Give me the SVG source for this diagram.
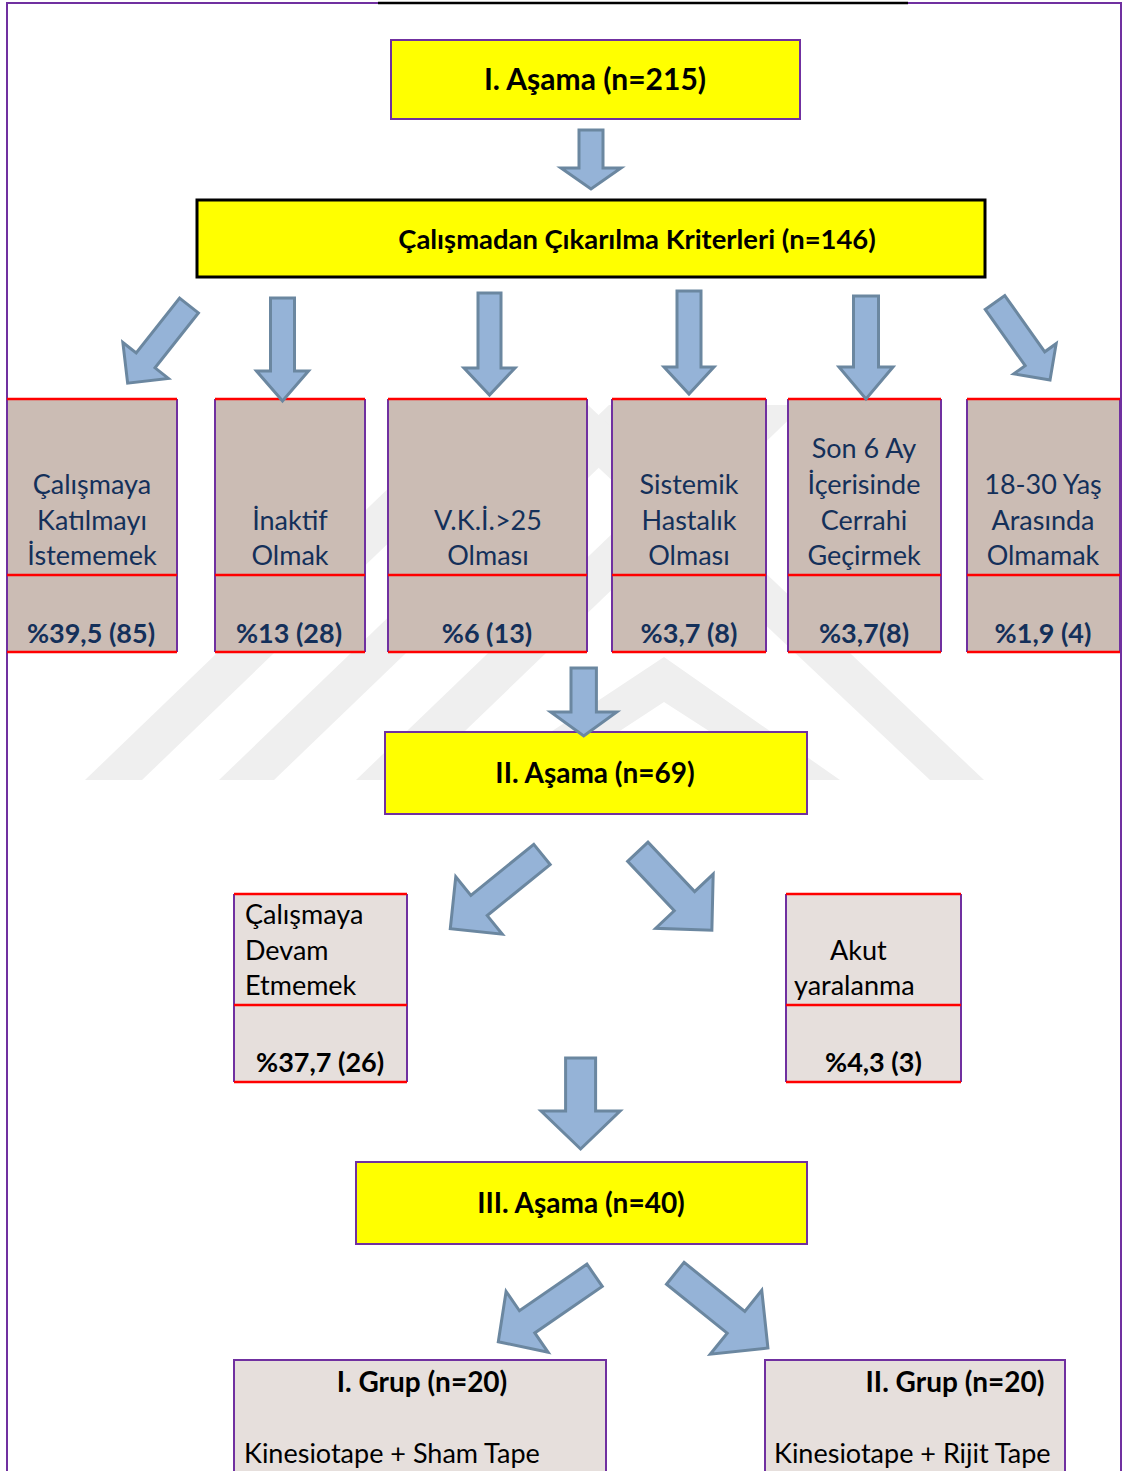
<svg xmlns="http://www.w3.org/2000/svg" width="1123" height="1471" viewBox="0 0 1123 1471">
<style>
.title{font-family:Lato,"Liberation Sans",sans-serif;font-weight:bold;font-size:28px;fill:#000;text-anchor:middle;}
.blue{font-family:Lato,"Liberation Sans",sans-serif;font-size:27px;fill:#14305a;text-anchor:middle;}
.bluep{font-family:Lato,"Liberation Sans",sans-serif;font-size:27px;font-weight:bold;fill:#14305a;text-anchor:middle;}
.blk{font-family:Lato,"Liberation Sans",sans-serif;font-size:27px;fill:#000;}
.blkb{font-family:Lato,"Liberation Sans",sans-serif;font-size:27px;font-weight:bold;fill:#000;}
.yel{fill:#ffff00;stroke:#7030a0;stroke-width:2;}
.tan{fill:#cbbcb4;}
.lt{fill:#e6dfdc;}
.red{stroke:#ff0000;stroke-width:2.5;fill:none;}
.pur{stroke:#7030a0;stroke-width:2;fill:none;}
.arr{fill:#95b3d7;stroke:#6b87a0;stroke-width:3;stroke-linejoin:miter;}
.wm{fill:#efefef;}
</style>
<rect x="0" y="0" width="1123" height="1471" fill="#ffffff"/>
<g id="watermark">
<polygon class="wm" points="85,780 142,780 532,405 475,405"/>
<polygon class="wm" points="219,780 274,780 664,405 609,405"/>
<polygon class="wm" points="356,780 414,780 804,405 746,405"/>
<polygon class="wm" points="664,657 840,780 785,780 664,702 545,780 478,780"/>
<polygon class="wm" points="532,405 588,405 984,780 930,780"/>
</g>
<g id="frame">
<rect x="7" y="3" width="1114" height="1480" fill="none" stroke="#7030a0" stroke-width="2"/>
<line x1="378" y1="3" x2="908" y2="3" stroke="#000" stroke-width="2.5"/>
</g>
<g id="asama1">
<rect class="yel" x="391" y="40" width="409" height="79"/>
<text class="title" x="595" y="90" style="font-size:30px">I. Aşama (n=215)</text>
</g>
<g id="kriterler">
<rect x="197" y="200" width="788" height="77" fill="#ffff00" stroke="#000" stroke-width="3"/>
<text class="title" x="637" y="249" style="font-size:27.4px">Çalışmadan Çıkarılma Kriterleri (n=146)</text>
</g>
<g id="k1">
<rect class="tan" x="7" y="399" width="170" height="253"/>
<path class="pur" d="M7 399V652M177 399V652"/>
<path class="red" d="M7 399H177M7 575H177M7 652H177"/>
<text class="blue" x="92" y="494">Çalışmaya</text>
<text class="blue" x="92" y="530">Katılmayı</text>
<text class="blue" x="92" y="565">İstememek</text>
<text class="bluep" x="91" y="643">%39,5 (85)</text>
</g>
<g id="k2">
<rect class="tan" x="215" y="399" width="150" height="253"/>
<path class="pur" d="M215 399V652M365 399V652"/>
<path class="red" d="M215 399H365M215 575H365M215 652H365"/>
<text class="blue" x="290" y="530">İnaktif</text>
<text class="blue" x="290" y="565">Olmak</text>
<text class="bluep" x="289" y="643">%13 (28)</text>
</g>
<g id="k3">
<rect class="tan" x="388" y="399" width="199" height="253"/>
<path class="pur" d="M388 399V652M587 399V652"/>
<path class="red" d="M388 399H587M388 575H587M388 652H587"/>
<text class="blue" x="488" y="530">V.K.İ.&gt;25</text>
<text class="blue" x="488" y="565">Olması</text>
<text class="bluep" x="487" y="643">%6 (13)</text>
</g>
<g id="k4">
<rect class="tan" x="612" y="399" width="154" height="253"/>
<path class="pur" d="M612 399V652M766 399V652"/>
<path class="red" d="M612 399H766M612 575H766M612 652H766"/>
<text class="blue" x="689" y="494">Sistemik</text>
<text class="blue" x="689" y="530">Hastalık</text>
<text class="blue" x="689" y="565">Olması</text>
<text class="bluep" x="689" y="643">%3,7 (8)</text>
</g>
<g id="k5">
<rect class="tan" x="788" y="399" width="153" height="253"/>
<path class="pur" d="M788 399V652M941 399V652"/>
<path class="red" d="M788 399H941M788 575H941M788 652H941"/>
<text class="blue" x="864" y="458">Son 6 Ay</text>
<text class="blue" x="864" y="494">İçerisinde</text>
<text class="blue" x="864" y="530">Cerrahi</text>
<text class="blue" x="864" y="565">Geçirmek</text>
<text class="bluep" x="864" y="643">%3,7(8)</text>
</g>
<g id="k6">
<rect class="tan" x="967" y="399" width="153" height="253"/>
<path class="pur" d="M967 399V652M1120 399V652"/>
<path class="red" d="M967 399H1120M967 575H1120M967 652H1120"/>
<text class="blue" x="1043" y="494">18-30 Yaş</text>
<text class="blue" x="1043" y="530">Arasında</text>
<text class="blue" x="1043" y="565">Olmamak</text>
<text class="bluep" x="1043" y="643">%1,9 (4)</text>
</g>
<g id="asama2">
<rect class="yel" x="385" y="732" width="422" height="82"/>
<text class="title" x="595" y="783">II. Aşama (n=69)</text>
</g>
<g id="devam">
<rect class="lt" x="234" y="894" width="173" height="188"/>
<path class="pur" d="M234 894V1082M407 894V1082"/>
<path class="red" d="M234 894H407M234 1005H407M234 1082H407"/>
<text class="blk" x="245" y="924">Çalışmaya</text>
<text class="blk" x="245" y="960">Devam</text>
<text class="blk" x="245" y="995">Etmemek</text>
<text class="blkb" x="256" y="1072">%37,7 (26)</text>
</g>
<g id="akut">
<rect class="lt" x="786" y="894" width="175" height="188"/>
<path class="pur" d="M786 894V1082M961 894V1082"/>
<path class="red" d="M786 894H961M786 1005H961M786 1082H961"/>
<text class="blk" x="830" y="960">Akut</text>
<text class="blk" x="794" y="995">yaralanma</text>
<text class="blkb" x="825" y="1072">%4,3 (3)</text>
</g>
<g id="asama3">
<rect class="yel" x="356" y="1162" width="451" height="82"/>
<text class="title" x="581" y="1213">III. Aşama (n=40)</text>
</g>
<g id="grup1">
<rect class="lt" x="234" y="1360" width="372" height="130" stroke="#7030a0" stroke-width="2"/>
<text class="title" x="422" y="1392">I. Grup (n=20)</text>
<text class="blk" x="244" y="1463">Kinesiotape + Sham Tape</text>
</g>
<g id="grup2">
<rect class="lt" x="765" y="1360" width="300" height="130" stroke="#7030a0" stroke-width="2"/>
<text class="title" x="955" y="1392">II. Grup (n=20)</text>
<text class="blk" x="774" y="1463">Kinesiotape + Rijit Tape</text>
</g>
<g id="connectors">
<path class="arr" transform="translate(591,130)" d="M-12 0H12V38H30L0 59L-30 38H-12Z"/>
<path class="arr" transform="translate(189,305.5) rotate(38.3)" d="M-12 0H12V70H29L0 99L-29 70H-12Z"/>
<path class="arr" transform="translate(282.5,298)" d="M-12 0H12V73H26L0 103L-26 73H-12Z"/>
<path class="arr" transform="translate(489.5,293)" d="M-11.5 0H11.5V75H25.5L0 102L-25.5 75H-11.5Z"/>
<path class="arr" transform="translate(689,291)" d="M-12 0H12V76H25L0 103L-25 76H-12Z"/>
<path class="arr" transform="translate(866,296)" d="M-12.5 0H12.5V71H27L0 103L-27 71H-12.5Z"/>
<path class="arr" transform="translate(995,302.5) rotate(-35.4)" d="M-12 0H12V69H26L0 95L-26 69H-12Z"/>
<path class="arr" transform="translate(583.7,668)" d="M-12.7 0H12.7V44H33L0 68L-33 44H-12.7Z"/>
<path class="arr" transform="translate(542,854.5) rotate(51)" d="M-13 0H13V81H37L0 118L-37 81H-13Z"/>
<path class="arr" transform="translate(637.8,851.7) rotate(-43.3)" d="M-14 0H14V68H39.5L0 108L-39.5 68H-14Z"/>
<path class="arr" transform="translate(580.6,1058)" d="M-15 0H15V53H39.5L0 91L-39.5 53H-15Z"/>
<path class="arr" transform="translate(594.6,1275.3) rotate(55.4)" d="M-13.5 0H13.5V82H37L0 117L-37 82H-13.5Z"/>
<path class="arr" transform="translate(675.3,1273.3) rotate(-51.1)" d="M-14 0H14V78H41L0 119L-41 78H-14Z"/>
</g>
</svg>
